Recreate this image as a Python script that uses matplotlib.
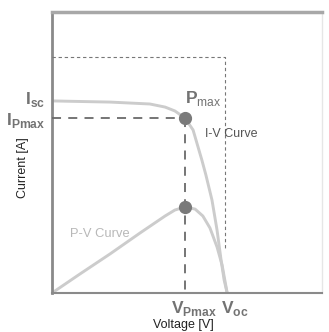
import numpy as np
import matplotlib
matplotlib.use("Agg")
import matplotlib.pyplot as plt

plt.rcParams['font.family'] = ['Liberation Sans', 'DejaVu Sans']
plt.rcParams['mathtext.fontset'] = 'custom'
plt.rcParams['mathtext.rm'] = 'Liberation Sans'
plt.rcParams['mathtext.bf'] = 'Liberation Sans:bold'

# I-V curve
v_iv = [0.0, 0.172, 0.290, 0.335, 0.364, 0.394, 0.418, 0.444, 0.456, 0.474, 0.489, 0.501, 0.510, 0.519]
i_iv = [0.998, 0.992, 0.982, 0.966, 0.946, 0.909, 0.847, 0.691, 0.613, 0.483, 0.327, 0.171, 0.068, 0.0]

# P-V curve (scaled to the current axis)
v_pv = [0.0, 0.083, 0.172, 0.261, 0.335, 0.364, 0.394, 0.424, 0.447, 0.468, 0.489, 0.504, 0.519]
p_pv = [0.0, 0.099, 0.203, 0.312, 0.400, 0.431, 0.447, 0.436, 0.400, 0.338, 0.239, 0.145, 0.0]

v_mp, i_mp, p_mp = 0.394, 0.909, 0.447
v_oc, i_sc = 0.519, 0.998
box_v, box_top, box_bot = 0.513, 1.226, 0.234

fig = plt.figure(figsize=(3.29, 3.32), dpi=100)
ax = fig.add_axes([52/329, 39/332, 270/329, 281/332])

curve_col = '#cccccc'
ax.plot(v_iv, i_iv, color=curve_col, lw=2.1, solid_capstyle='round', zorder=2)
ax.plot(v_pv, p_pv, color=curve_col, lw=2.1, solid_capstyle='round', zorder=2)

# dashed lines to the MPP
ax.plot([0, v_mp], [i_mp, i_mp], color='#6a6a6a', lw=1.3, dashes=(5, 4), zorder=3)
ax.plot([v_mp, v_mp], [i_mp, 0], color='#6a6a6a', lw=1.3, dashes=(5, 4), zorder=3)

# dotted box
ax.plot([0, box_v, box_v], [box_top, box_top, box_bot], color='#777777', lw=0.8, dashes=(3, 2.5), zorder=3)

ax.plot([v_mp, v_mp], [i_mp, p_mp], 'o', color='#7a7a7a', ms=8.5, zorder=4)

ax.set_xlim(0, 0.8)
ax.set_ylim(0, 1.46)
ax.set_xticks([])
ax.set_yticks([])

ax.spines['left'].set_color('#8a8a8a')
ax.spines['left'].set_linewidth(2)
ax.spines['bottom'].set_color('#8a8a8a')
ax.spines['bottom'].set_linewidth(1.5)
ax.spines['top'].set_color('#a8a8a8')
ax.spines['top'].set_linewidth(2.5)
ax.spines['right'].set_color('#e6e6e6')
ax.spines['right'].set_linewidth(1)

lab = dict(color='#737373', fontsize=12.5, clip_on=False)
ax.text(-0.021, 0.982, r'$\mathbf{I}_{\mathbf{sc}}$', ha='right', va='baseline', **lab)
ax.text(-0.021, 0.873, r'$\mathbf{I}_{\mathbf{Pmax}}$', ha='right', va='baseline', **lab)
ax.text(0.394, 0.987, r'$\mathbf{P}_{\mathrm{max}}$', ha='left', va='baseline', **lab)
ax.text(0.353, -0.104, r'$\mathbf{V}_{\mathbf{Pmax}}$', ha='left', va='baseline', **lab)
ax.text(0.501, -0.104, r'$\mathbf{V}_{\mathbf{oc}}$', ha='left', va='baseline', **lab)

ax.text(0.453, 0.81, 'I-V Curve', color='#555555', fontsize=9, ha='left', va='baseline')
ax.text(0.053, 0.291, 'P-V Curve', color='#b8b8b8', fontsize=9.3, ha='left', va='baseline')

fig.text(183/329, 1 - 325/332, 'Voltage [V]', fontsize=9, ha='center', va='center', color='#222222')
fig.text(23/329, 1 - 168/332, 'Current [A]', fontsize=9, ha='center', va='center', rotation=90, color='#222222')

fig.savefig('out.png', dpi=100)
